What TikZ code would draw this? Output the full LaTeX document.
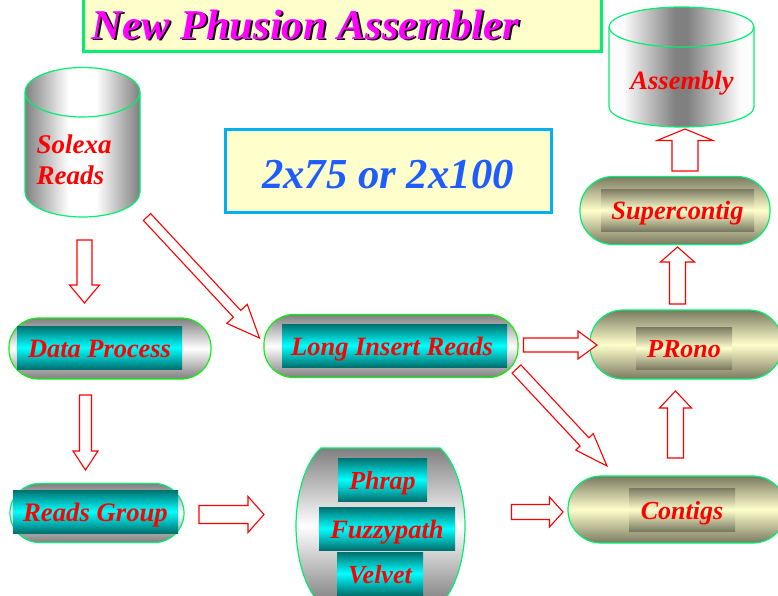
\documentclass[tikz,border=0pt]{standalone}
\usepackage{fontspec}
\setmainfont{Liberation Serif}
\usepackage{xcolor}
\usetikzlibrary{calc}

\definecolor{paleyellow}{HTML}{FFFFCC}
\definecolor{springline}{HTML}{00F070}
\definecolor{limeline}{HTML}{10F010}
\definecolor{skyline}{HTML}{00B0F0}
\definecolor{darkteal}{HTML}{007070}
\definecolor{brightcyan}{HTML}{00FFFF}
\definecolor{darkkhaki}{HTML}{7A7A62}
\definecolor{blocktext}{HTML}{1F5CFF}
\definecolor{titlepink}{HTML}{FF00FF}

\pgfdeclarehorizontalshading{silvercan}{100bp}{color(0bp)=(gray); color(25bp)=(gray); color(44bp)=(white); color(56bp)=(white); color(75bp)=(gray); color(100bp)=(gray)}
\pgfdeclarehorizontalshading{darkcan}{100bp}{color(0bp)=(white); color(25bp)=(white); color(30bp)=(white!97!gray); color(48bp)=(gray); color(52bp)=(gray); color(70bp)=(white!97!gray); color(75bp)=(white); color(100bp)=(white)}

\tikzset{
  label/.style={font=\bfseries\itshape\fontsize{#1}{#1}\selectfont,text=red,text height=19pt,text depth=0pt},
  pill/.style={draw=springline,line width=1.2pt,rounded corners=29.5pt,top color=gray,bottom color=gray,middle color=white,inner sep=0pt},
  khakipill/.style={pill,rounded corners=33pt,top color=darkkhaki,bottom color=darkkhaki,middle color=paleyellow},
  tealbox/.style={top color=darkteal,bottom color=darkteal,middle color=brightcyan,inner sep=0pt},
  khakibox/.style={top color=darkkhaki,bottom color=darkkhaki,middle color=paleyellow,inner sep=0pt},
  banner/.style={fill=paleyellow,line width=3pt,inner sep=0pt},
  titletype/.style={font=\bfseries\itshape\fontsize{42.5}{42.5}\selectfont,text height=26pt,text depth=0pt},
  hollow/.style={draw=red,line width=1.1pt,fill=white,line join=miter},
  cylline/.style={draw=springline,line width=1.2pt}
}

% tail, tip, half shaft, half head, head length
\newcommand{\blockarrow}[5]{
  \coordinate (hb) at ($(#2)!#5!(#1)$);
  \draw[hollow] ($(#1)!#3!90:(#2)$) -- ($(hb)!#3!90:(#2)$) -- ($(hb)!#4!90:(#2)$) -- (#2)
    -- ($(hb)!#4!-90:(#2)$) -- ($(hb)!#3!-90:(#2)$) -- ($(#1)!#3!-90:(#2)$) -- cycle;
}

\begin{document}
\begin{tikzpicture}[x=1pt,y=-1pt]
  \useasboundingbox (0,0) rectangle (778,596);
  \clip (0,0) rectangle (778,596);

  % Title and read length
  \node[banner,draw=springline,minimum width=518pt,minimum height=57pt] (title) at (342,23.5) {};
  \node[titletype,text=black] (titleshadow) at (307.5,28) {New Phusion Assembler};
  \node[titletype,text=titlepink] (titletext) at (305.5,26.5) {New Phusion Assembler};
  \node[banner,draw=skyline,minimum width=326pt,minimum height=83pt,font=\bfseries\itshape\fontsize{42.7}{42.7}\selectfont,text=blocktext,text height=34pt,text depth=0pt] (readlen) at (388,171) {2x75 or 2x100};

  % Solexa cylinder
  \shade[shading=silvercan] (25,92) arc[x radius=57.5,y radius=24.5,start angle=180,end angle=360] -- (140,192) arc[x radius=57.5,y radius=25,start angle=0,end angle=180] -- cycle;
  \draw[cylline] (25,92) arc[x radius=57.5,y radius=24.5,start angle=180,end angle=360] -- (140,192) arc[x radius=57.5,y radius=25,start angle=0,end angle=180] -- cycle;
  \draw[cylline] (25,92) arc[x radius=57.5,y radius=25,start angle=180,end angle=0];
  \node[font=\bfseries\itshape\fontsize{27}{27}\selectfont,text=red,align=left,anchor=west] (solexa) at (33,160) {Solexa\\[4pt]Reads};

  % Assembly cylinder
  \shade[shading=darkcan] (609,27) arc[x radius=72.5,y radius=20,start angle=180,end angle=360] -- (754,107) arc[x radius=72.5,y radius=20,start angle=0,end angle=180] -- cycle;
  \draw[cylline] (609,27) arc[x radius=72.5,y radius=20,start angle=180,end angle=360] -- (754,107) arc[x radius=72.5,y radius=20,start angle=0,end angle=180] -- cycle;
  \draw[cylline] (609,27) arc[x radius=72.5,y radius=20,start angle=180,end angle=0];
  \node[label=26.5] (assembly) at (682,80) {Assembly};

  % Grey pills
  \node[pill,draw=limeline,minimum width=202pt,minimum height=61pt] (dataproc) at (110,348.5) {};
  \node[tealbox,minimum width=165pt,minimum height=43pt,label=26.4] (dataprocbox) at (99.5,347.5) {Data Process};
  \node[pill,minimum width=174pt,minimum height=59pt] (readsgrp) at (97,513) {};
  \node[tealbox,minimum width=165pt,minimum height=43pt,label=26.7] (readsgrpbox) at (95.5,511.5) {Reads Group};
  \node[pill,draw=limeline,minimum width=254pt,minimum height=63pt] (longins) at (391,346) {};
  \node[tealbox,minimum width=225pt,minimum height=43pt,label=26.5] (longinsbox) at (394.5,345.5) {\hspace*{-5pt}Long Insert Reads};

  % Barrel with the three assemblers
  \path[draw=springline,line width=1.2pt,top color=gray,bottom color=gray,middle color=white] (321,448) -- (440,448) .. controls (456,462) and (465,495) .. (465,526) .. controls (465,557) and (456,590) .. (440,604) -- (321,604) .. controls (305,590) and (296,557) .. (296,526) .. controls (296,495) and (305,462) .. (321,448) -- cycle;
  \node[tealbox,minimum width=89pt,minimum height=43pt,label=26] (phrap) at (382.5,479.5) {Phrap};
  \node[tealbox,minimum width=136pt,minimum height=43pt,label=26.5] (fuzzy) at (387,528.5) {Fuzzypath};
  \node[tealbox,minimum width=86pt,minimum height=43pt,label=26] (velvet) at (380,573.5) {Velvet};

  % Khaki pills
  \node[khakipill,minimum width=190pt,minimum height=68pt] (superc) at (675,210.5) {};
  \node[khakibox,minimum width=153pt,minimum height=42pt,label=26.4] (supercbox) at (677.5,210) {Supercontig};
  \node[khakipill,minimum width=192pt,minimum height=69pt] (prono) at (686,344.5) {};
  \node[khakibox,minimum width=96pt,minimum height=42pt,label=26] (pronobox) at (684,348) {PRono};
  \node[khakipill,minimum width=218pt,minimum height=67pt] (contigs) at (677,509.5) {};
  \node[khakibox,minimum width=106pt,minimum height=43pt,label=26] (contigsbox) at (682,509.5) {Contigs};

  % Arrow ends
  \coordinate (a1) at (84.5,240);   \coordinate (b1) at (84.5,303);
  \coordinate (a2) at (85.5,395);   \coordinate (b2) at (85.5,470);
  \coordinate (a3) at (147,217);    \coordinate (b3) at (259.5,338);
  \coordinate (a4) at (199,514.5);  \coordinate (b4) at (264,514.5);
  \coordinate (a5) at (523.5,345);  \coordinate (b5) at (597,345);
  \coordinate (a6) at (516.5,369);  \coordinate (b6) at (607,466);
  \coordinate (a7) at (511.5,512);  \coordinate (b7) at (563,512);
  \coordinate (a8) at (675.5,458);  \coordinate (b8) at (675.5,391);
  \coordinate (a9) at (677.5,304);  \coordinate (b9) at (677.5,247);
  \coordinate (a10) at (685,171);   \coordinate (b10) at (685,129);

  % Block arrows
  \blockarrow{a1}{b1}{7.5pt}{15pt}{18pt}
  \blockarrow{a2}{b2}{6pt}{12.5pt}{19pt}
  \blockarrow{a3}{b3}{5pt}{14pt}{33pt}
  \blockarrow{a4}{b4}{9pt}{18pt}{16pt}
  \blockarrow{a5}{b5}{7pt}{14pt}{19pt}
  \blockarrow{a6}{b6}{6pt}{12pt}{33pt}
  \blockarrow{a7}{b7}{7.5pt}{15pt}{13.5pt}
  \blockarrow{a8}{b8}{8pt}{16pt}{17pt}
  \blockarrow{a9}{b9}{8pt}{17pt}{15pt}
  \blockarrow{a10}{b10}{13pt}{28pt}{11.5pt}
\end{tikzpicture}
\end{document}
